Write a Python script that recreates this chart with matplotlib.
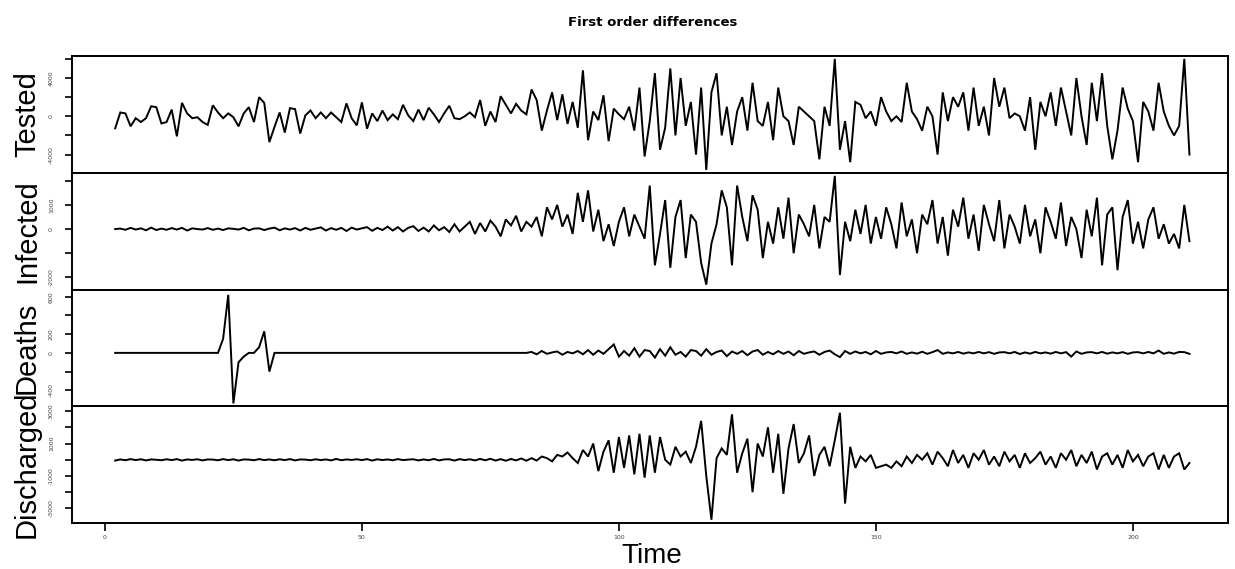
import numpy as np
import matplotlib
matplotlib.use("Agg")
import matplotlib.pyplot as plt

# ---------------- data (first differences) ----------------
# Tested, in thousands, t = 2..211
tested_k = [
    -1.26, 0.4, 0.3, -1.05, -0.2, -0.6, -0.2, 1.05, 0.95, -0.75,
    -0.6, 0.7, -2.1, 1.4, 0.3, -0.2, -0.1, -0.6, -0.9, 1.15,
    0.4, -0.2, 0.3, -0.1, -1.05, 0.3, 0.95, -0.6, 2.0, 1.4,
    -2.7, -1.1, 0.4, -1.7, 0.85, 0.75, -1.8, 0.1, 0.6, -0.2,
    0.4, -0.2, 0.4, -0.1, -0.6, 1.35, -0.2, -0.95, 1.45, -1.3,
    0.3, -0.5, 0.6, -0.4, 0.2, -0.3, 1.2, 0.1, -0.5, 0.7,
    -0.4, 0.9, 0.2, -0.6, 0.3, 1.1, -0.2, -0.3, 0.0, 0.4,
    -0.1, 1.7, -1.0, 0.5, -0.6, 2.1, 1.2, 0.3, 1.3, 0.6,
    0.2, 2.8, 1.7, -1.5, 0.6, 2.5, -0.4, 2.3, -0.8, 1.5,
    -1.2, 4.8, -2.5, 0.5, -0.4, 2.2, -2.6, 0.8, 0.2, -0.3,
    1.0, -1.5, 3.0, -4.2, -0.5, 4.5, -3.5, -1.2, 5.0, -2.0,
    4.0, -1.0, 1.5, -4.0, 3.0, -5.6, 2.5, 4.5, -2.0, 1.0,
    -3.0, 0.5, 2.0, -1.5, 3.5, -0.5, -1.0, 1.5, -2.5, 3.0,
    0.0, -0.5, -3.0, 1.0, 0.5, 0.0, -0.5, -4.5, 1.0, -1.0,
    6.0, -3.5, -0.5, -4.8, 1.5, 1.2, -0.2, 0.5, -1.0, 2.0,
    0.5, -0.5, 0.0, -0.6, 3.5, 0.5, -0.3, -1.5, 1.0, 0.0,
    -4.0, 2.5, -0.5, 2.0, 1.0, 2.5, -1.5, 3.0, -1.0, 1.0,
    -2.0, 4.0, 1.0, 3.0, -0.2, 0.3, 0.0, -1.5, 2.0, -3.5,
    1.5, 0.0, 2.5, -1.0, 3.0, 0.5, -2.0, 4.0, 0.0, -3.0,
    3.5, -0.5, 4.5, -1.0, -4.5, -1.5, 3.0, 0.8, -0.5, -4.8,
    1.5, 0.5, -1.5, 3.5, 0.5, -1.0, -2.0, -1.0, 6.0, -4.0,
]

# Infected, in thousands
infected_k = [
    0.0, 0.02, -0.03, 0.05, -0.02, 0.03, -0.05, 0.06, -0.04, 0.02,
    -0.03, 0.04, -0.02, 0.05, -0.06, 0.03, 0.0, -0.02, 0.04, -0.03,
    0.02, -0.04, 0.03, 0.01, -0.02, 0.05, -0.05, 0.02, 0.03, -0.04,
    0.02, 0.06, -0.05, 0.03, -0.02, 0.04, -0.06, 0.05, -0.03, 0.02,
    0.07, -0.06, 0.04, -0.03, 0.05, -0.08, 0.06, -0.02, 0.03, 0.08,
    -0.07, 0.05, -0.04, 0.1, -0.06, 0.08, -0.1, 0.05, 0.12, -0.08,
    0.06, -0.1, 0.15, -0.05, 0.08, -0.12, 0.2, -0.1, 0.1, 0.3,
    -0.2, 0.25, -0.1, 0.35, 0.1, -0.3, 0.4, 0.15, 0.55, -0.1,
    0.3, 0.1, 0.5, -0.3, 0.9, 0.4, 1.0, 0.1, 0.6, -0.2,
    1.5, 0.3, 1.6, -0.1, 0.8, -0.5, 0.2, -0.7, 0.3, 0.9,
    -0.3, 0.6, 0.1, -0.4, 1.8, -1.5, -0.2, 1.2, -1.6, 0.5,
    1.2, -1.2, 0.6, 0.3, -1.4, -2.3, -0.6, 0.2, 1.6, 0.9,
    -1.5, 1.8, 0.5, -0.5, 1.4, 0.8, -1.2, 0.3, -0.6, 0.9,
    -0.4, 1.3, -1.0, 0.6, 0.2, -0.3, 1.0, -0.8, 0.5, 0.3,
    2.2, -1.9, 0.3, -0.5, 0.8, -0.2, 1.0, -0.6, 0.5, -0.4,
    0.9, 0.2, -0.8, 1.1, -0.3, 0.4, -1.0, 0.6, 0.2, 1.2,
    -0.6, 0.5, -1.1, 0.8, 0.1, 1.3, -0.4, 0.6, -0.9, 1.0,
    0.2, -0.5, 1.2, -0.8, 0.6, 0.1, -0.6, 1.0, -0.3, 0.4,
    -1.0, 0.9, 0.3, -0.4, 1.1, -0.7, 0.5, 0.0, -1.2, 0.8,
    -0.3, 1.3, -1.5, 0.6, 0.9, -1.7, 0.5, 1.2, -0.6, 0.3,
    -0.8, 0.4, 0.9, -0.4, 0.2, -0.6, -0.2, -0.8, 1.0, -0.5,
]

# Deaths, raw counts
deaths = (
    [0] * 21
    + [150, 620, -540, -100, -40, 0, 0, 60, 230, -200, 0]
    + [0] * 49
    + [
        10, -15, 20, -10, 5, 15, -20, 10, -5, 20,
        -15, 30, -20, 25, -10, 40, 90, -40, 20, -30,
        50, -40, 30, 20, -50, 40, -30, 60, -20, 10,
        -40, 30, 20, -30, 40, -20, 10, 25, -35, 15,
        -10, 20, -25, 15, 30, -20, 10, -15, 20, -10,
        15, -25, 20, -10, 5, 15, -20, 10, 25, -15,
        -45, 20, -10, 15, -5, 10, -15, 20, -10, 5,
        10, -5, 15, -10, 5, -8, 12, -10, 8, 30,
        -10, 5, -5, 10, -8, 5, -5, 10, -5, 8,
        -10, 5, 8, -5, 10, -12, 5, -8, 10, -5,
        5, -8, 10, -5, 8, -40, 15, -10, 5, 8,
        -5, 10, -8, 5, -5, 8, -10, 5, 8, -5,
        10, -5, 25, -10, 5, -8, 10, 8, -10,
    ]
)

# Discharged, in thousands
discharged_k = [
    -0.05, 0.02, -0.03, 0.04, -0.02, 0.03, -0.04, 0.02, 0.0, -0.03,
    0.03, -0.02, 0.04, -0.05, 0.02, -0.01, 0.03, -0.04, 0.02, 0.01,
    -0.03, 0.04, -0.02, 0.03, -0.05, 0.02, 0.01, -0.03, 0.04, -0.02,
    0.02, -0.03, 0.03, -0.02, 0.04, -0.04, 0.02, 0.01, -0.03, 0.03,
    -0.02, 0.02, -0.04, 0.05, -0.03, 0.02, -0.01, 0.03, -0.02, 0.04,
    -0.05, 0.03, -0.02, 0.02, -0.03, 0.04, -0.02, 0.01, 0.03, -0.04,
    0.02, -0.03, 0.05, -0.04, 0.02, 0.03, -0.05, 0.04, -0.02, 0.03,
    -0.04, 0.05, -0.03, 0.06, -0.05, 0.04, -0.06, 0.05, -0.04, 0.08,
    -0.06, 0.1, -0.05, 0.2, 0.1, -0.1, 0.3, 0.2, 0.45, 0.1,
    -0.2, 0.6, 0.2, 1.0, -0.7, 0.5, 1.2, -0.8, 1.4, -0.5,
    1.5, -0.9, 1.6, -1.1, 1.5, -0.8, 1.4, 0.0, -0.3, 0.8,
    0.2, 0.5, -0.2, 0.8, 2.4, -1.0, -3.7, 0.1, 0.7, 0.3,
    2.8, -0.8, 0.4, 1.3, -2.0, 1.0, 0.2, 2.0, -0.8, 1.6,
    -2.1, 0.7, 2.2, -0.2, 0.4, 1.5, -1.0, 0.3, 0.8, -0.4,
    1.2, 2.9, -2.7, 0.8, -0.5, 0.2, -0.1, 0.3, -0.5, -0.4,
    -0.3, -0.5, -0.1, -0.4, 0.2, -0.2, 0.3, 0.0, 0.4, -0.3,
    0.5, 0.1, -0.4, 0.6, -0.2, 0.3, -0.5, 0.4, 0.0, 0.6,
    -0.3, 0.2, -0.4, 0.5, -0.1, 0.3, -0.5, 0.4, -0.2, 0.1,
    0.5, -0.3, 0.2, -0.5, 0.4, 0.0, 0.6, -0.4, 0.3, -0.2,
    0.5, -0.6, 0.2, 0.4, -0.3, 0.3, -0.5, 0.6, -0.1, 0.3,
    -0.4, 0.2, 0.4, -0.6, 0.3, -0.5, 0.2, 0.4, -0.6, -0.2,
]

series_names = ["Tested", "Infected", "Deaths", "Discharged"]
series_values = [tested_k, infected_k, deaths, discharged_k]

# y ticks (in plotted units) and their labels (blank = unlabeled tick)
yticks = [
    [-4, -2, 0, 2, 4, 6],
    [-2, -1, 0, 1, 2],
    [-400, -200, 0, 200, 400, 600],
    [-3, -2, -1, 0, 1, 2, 3],
]
yticklabels = [
    ["-4000", "", "0", "", "4000", ""],
    ["-2000", "", "0", "1000", ""],
    ["-400", "", "0", "200", "", "600"],
    ["-3000", "", "-1000", "", "1000", "", "3000"],
]
ylims = [(-5.9, 6.3), (-2.5, 2.33), (-570, 677), (-3.9, 3.3)]

xticks = [0, 50, 100, 150, 200]
xticklabels = ["0", "50", "100", "150", "200"]
xlim = (-6.4, 218.5)
t_start = 2

# ---------------- figure ----------------
W, H = 1235, 569
fig = plt.figure(figsize=(W / 100, H / 100), dpi=100)
fig.patch.set_facecolor("white")

left_px, right_px = 72, 1228
top_px, bot_px = 56, 523
ph = (bot_px - top_px) / 4

axes = []
for i, (name, vals) in enumerate(zip(series_names, series_values)):
    y0 = top_px + (i + 1) * ph
    ax = fig.add_axes([left_px / W, 1 - y0 / H, (right_px - left_px) / W, ph / H])
    t = np.arange(t_start, t_start + len(vals))
    ax.plot(t, vals, color="black", lw=1.4, solid_joinstyle="miter")
    ax.set_xlim(*xlim)
    ax.set_ylim(*ylims[i])
    ax.set_yticks(yticks[i])
    ax.set_yticklabels(yticklabels[i], rotation=90, va="center",
                       fontsize=4.5, color="#444444", family="DejaVu Sans")
    ax.tick_params(axis="y", length=5, width=1.2, pad=8, color="black")
    for s in ax.spines.values():
        s.set_linewidth(1.4)
    if i < 3:
        ax.set_xticks([])
    else:
        ax.set_xticks(xticks)
        ax.set_xticklabels(xticklabels, fontsize=4.5, color="#444444")
        ax.tick_params(axis="x", length=6, width=1.2, pad=2.5)
    fig.text(27 / W, 1 - (top_px + (i + 0.5) * ph) / H, name, rotation=90,
             ha="center", va="center", fontsize=21, family="Liberation Sans")
    axes.append(ax)

fig.text(653 / W, 1 - 22 / H, "First order differences", ha="center",
         va="center", fontsize=9.5, fontweight="bold", family="DejaVu Sans")
fig.text(652 / W, 1 - 563 / H, "Time", ha="center", va="baseline",
         fontsize=20, family="Liberation Sans")

fig.savefig("out.png", dpi=100)
